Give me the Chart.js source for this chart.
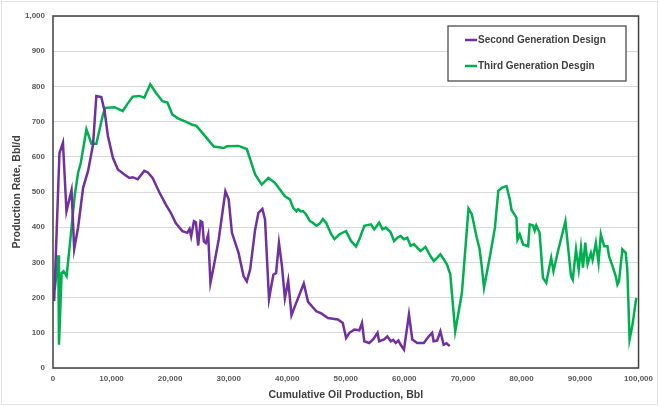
<!DOCTYPE html>
<html>
<head>
<meta charset="utf-8">
<script src="https://cdn.jsdelivr.net/npm/chart.js@4/dist/chart.umd.min.js"></script>
<style>
    html, body { margin: 0; padding: 0; background: #fff; }
    #wrap { width: 659px; height: 406px; position: relative; }
</style>
</head>
<body>
<div id="wrap"><canvas id="prodChart" width="659" height="406"></canvas></div>
<script>
const xLabel = 'Cumulative Oil Production, Bbl';
const yLabel = 'Production Rate, Bbl/d';
const seriesNames = ['Second Generation Design', 'Third Generation Desgin'];
const seriesColors = ['#7030a0', '#00b050'];

// Second generation: cumulative (Bbl) / rate (Bbl/d)
const cumSecond = [200, 1100, 1700, 2300, 3170, 3620, 4290, 5140, 5990, 6840, 7400, 8250, 8810, 9380, 10230, 11080,
    12200, 13050, 13620, 14470, 15590, 16160, 17010, 18140, 19270, 20120, 20960, 22090, 22940, 23330, 23600, 24070,
    24400, 24800, 25200, 25500, 25760, 26100, 26500, 26890, 27460, 28300, 29440, 30000, 30560, 31690, 32540, 33100,
    33670, 34520, 35080, 35760, 36210, 36890, 37630, 38100, 38590, 39100, 39600, 40170, 40730, 41300, 42830, 43560,
    44970, 45820, 46950, 47800, 48650, 49490, 50060, 50620, 51470, 52320, 52770, 53160, 54010, 54700, 55420, 55700,
    56550, 57100, 57680, 58100, 58530, 59000, 59380, 59940, 60790, 61360, 62200, 63330, 64180, 64750, 65000, 65600,
    66160, 66720, 67200, 67740];
const rateSecond = [190, 610, 640, 445, 505, 338, 400, 512, 560, 635, 773, 770, 730, 659, 597, 564,
    550, 540, 542, 536, 560, 556, 540, 500, 464, 441, 412, 389, 384, 395, 374, 417,
    414, 348, 417, 414, 360, 355, 379, 242, 289, 365, 502, 479, 384, 327, 261, 246,
    280, 393, 441, 452, 422, 196, 265, 270, 355, 290, 198, 248, 150, 175, 240, 188,
    161, 155, 142, 140, 138, 128, 85, 100, 109, 107, 128, 76, 71, 82, 100, 76,
    81, 90, 76, 80, 71, 78, 66, 52, 152, 81, 71, 71, 90, 100, 76, 78,
    104, 66, 70, 62];

// Third generation
const cumThird = [300, 900, 1020, 1470, 1800, 2320, 2880, 3730, 4290, 4750, 5710, 6560, 7400, 8530, 8920, 10510,
    11920, 12660, 13620, 14750, 15590, 16610, 17570, 18700, 19540, 20390, 21500, 22660, 23780, 24500, 25760, 27460,
    29150, 29700, 31690, 33100, 34520, 35650, 36780, 37900, 38750, 39600, 40450, 41020, 41580,
    41860, 42370, 42710, 43220, 43850, 44410, 44970, 45540, 46100, 46660, 47510, 48080, 48930, 50050, 50900, 51750,
    52320, 53170, 54290, 54860, 55710, 56270, 56830, 57680, 58250, 58810, 59370, 59950, 60510, 61070, 61640, 62200,
    62760, 63610, 64460, 65030, 65590, 66150, 66730, 67290, 67850, 68690,
    69830, 70960, 71530, 72370, 72830, 73220, 73610, 74630, 75470, 76050, 76610, 77460,
    78020, 78310, 79150, 79320, 79710, 80290, 81140, 81410, 81980, 82260, 82540, 83100, 83680, 84240, 85080, 85470,
    86220, 87510, 88470, 88760, 89320, 89780, 90170, 90510, 90900, 91300, 91860, 92150, 92710, 93170, 93560, 94120,
    94690, 94970, 95540, 96100, 96390, 96660, 97240, 97800, 98080, 98470, 98930, 99610];
const rateThird = [222, 320, 66, 270, 275, 261, 351, 493, 555, 583, 678, 637, 637, 720, 739, 741,
    730, 749, 771, 773, 768, 806, 782, 758, 754, 720, 708, 700, 691, 688, 663, 629,
    625, 630, 631, 622, 550, 521, 540, 526, 507, 488, 479, 455, 445,
    451, 445, 446, 436, 418, 412, 404, 410, 423, 412, 380, 366, 380, 389, 361, 345,
    366, 404, 408, 394, 413, 394, 399, 385, 361, 370, 375, 366, 370, 347, 352, 342,
    332, 344, 318, 304, 313, 323, 309, 294, 266, 104,
    213, 453, 437, 370, 340, 289, 228, 318, 398, 503, 512, 517,
    479, 449, 427, 365, 380, 351, 346, 408, 405, 390, 405, 384, 256, 242, 313, 275,
    330, 417, 261, 251, 337, 280, 342, 285, 356, 295, 327, 307, 356, 299, 380, 346,
    346, 317, 290, 261, 237, 246, 337, 327, 280, 81, 119, 199];

const toPoints = (xs, ys) => xs.map((x, i) => ({ x: x, y: ys[i] }));

const frame = {
    id: 'frame',
    beforeDraw(chart) {
        const ctx = chart.ctx;
        ctx.save();
        ctx.strokeStyle = '#e3e3e3';
        ctx.lineWidth = 1;
        ctx.strokeRect(1.5, 1.5, chart.width - 3, chart.height - 3);
        ctx.restore();
    },
    afterDraw(chart) {
        const ctx = chart.ctx;
        const a = chart.chartArea;
        ctx.save();
        ctx.strokeStyle = '#404040';
        ctx.lineWidth = 1.5;
        ctx.strokeRect(a.left, a.top, a.right - a.left, a.bottom - a.top);

        // legend box
        ctx.fillStyle = '#fff';
        ctx.fillRect(448, 26, 178, 55);
        ctx.lineWidth = 1.2;
        ctx.strokeRect(448, 26, 178, 55);
        ctx.font = 'bold 10px "Liberation Sans", Arial, sans-serif';
        ctx.textBaseline = 'middle';
        [40, 66].forEach((y, i) => {
            ctx.strokeStyle = seriesColors[i];
            ctx.lineWidth = 2.5;
            ctx.beginPath();
            ctx.moveTo(465, y);
            ctx.lineTo(477, y);
            ctx.stroke();
            ctx.fillStyle = '#404040';
            ctx.fillText(seriesNames[i], 478, y);
        });
        ctx.restore();
    }
};

document.addEventListener('DOMContentLoaded', () => {
    const ctx = document.getElementById('prodChart').getContext('2d');
    const tickFont = { family: '"Liberation Sans", Arial, sans-serif', size: 8, weight: 'bold' };
    const titleFont = { family: '"Liberation Sans", Arial, sans-serif', size: 10.5, weight: 'bold' };

    new Chart(ctx, {
        type: 'scatter',
        data: {
            datasets: [
                { label: seriesNames[0], data: toPoints(cumSecond, rateSecond), borderColor: seriesColors[0] },
                { label: seriesNames[1], data: toPoints(cumThird, rateThird), borderColor: seriesColors[1] }
            ].map(ds => Object.assign(ds, { showLine: true, pointRadius: 0, borderWidth: 2.5, tension: 0, fill: false }))
        },
        options: {
            responsive: false,
            animation: false,
            layout: { padding: { left: 0, right: 16, top: 16, bottom: 0 } },
            plugins: { legend: { display: false }, tooltip: { enabled: false } },
            scales: {
                x: {
                    type: 'linear', min: 0, max: 100000,
                    afterFit: s => { s.height = 38; },
                    ticks: { stepSize: 10000, color: '#595959', font: tickFont, padding: 6, maxRotation: 0,
                        callback: v => v.toLocaleString('en-US') },
                    grid: { display: false, drawTicks: false },
                    border: { display: false },
                    title: { display: true, text: xLabel, color: '#404040', font: titleFont, padding: { top: 0, bottom: 5 } }
                },
                y: {
                    min: 0, max: 1000,
                    afterFit: s => { s.width = 53; },
                    ticks: { stepSize: 100, color: '#595959', font: tickFont, padding: 8,
                        callback: v => v.toLocaleString('en-US') },
                    grid: { color: '#d9d9d9', lineWidth: 1, drawTicks: false },
                    border: { display: false },
                    title: { display: true, text: yLabel, color: '#404040', font: titleFont, padding: { top: 11, bottom: 0 } }
                }
            }
        },
        plugins: [frame]
    });
});
</script>
</body>
</html>
